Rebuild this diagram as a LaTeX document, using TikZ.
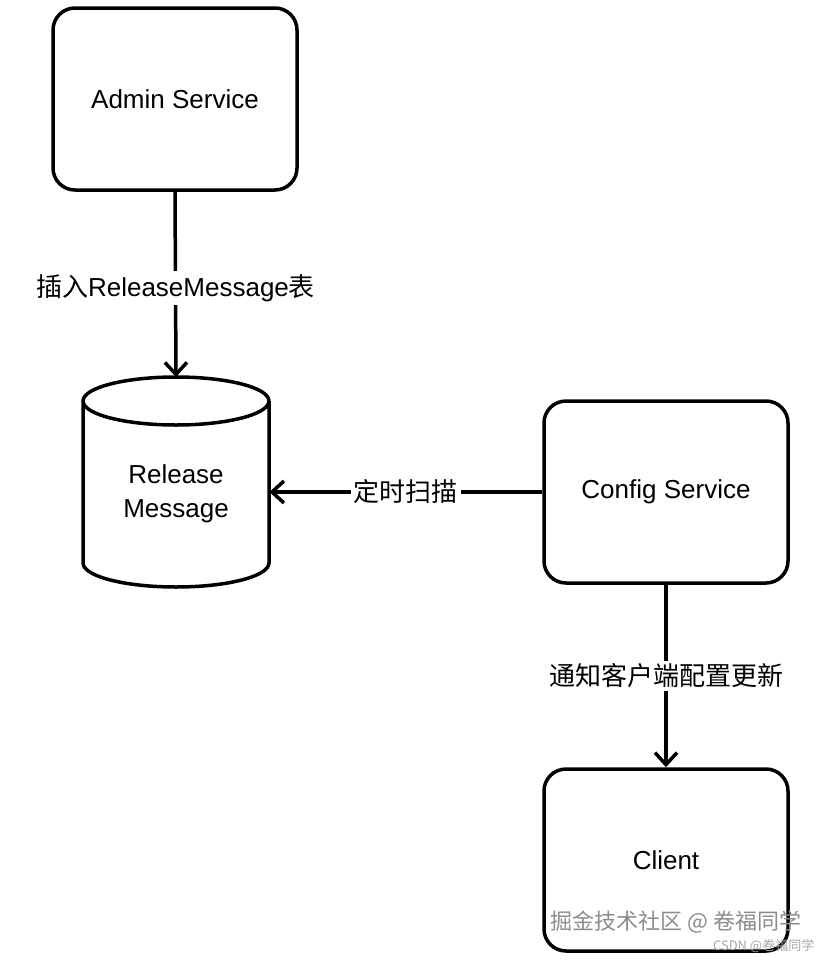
\documentclass[tikz,border=0pt]{standalone}
\usepackage{fontspec}
\setmainfont{Liberation Sans}
\newfontfamily\cjk{Noto Sans CJK SC}
\usetikzlibrary{arrows.meta}
\tikzset{every picture/.style={line width=0.75pt}}

\begin{document}
\begin{tikzpicture}[x=1pt,y=1pt,yscale=-1,xscale=1,
  box/.style={draw,line width=3.5pt,rounded corners=22pt,minimum width=244pt,minimum height=182pt,font=\fontsize{26}{30}\selectfont},
  lbl/.style={fill=white,inner sep=3pt,font=\fontsize{26}{30}\selectfont},
  arr/.style={line width=3.5pt,-{Straight Barb[length=12pt,width=22pt,line width=3.5pt]}}]
\useasboundingbox (0,0) rectangle (830,962);

% Boxes
\node [box] (admin) at (175,99) {Admin Service};
\node [box] (config) at (666,492) {Config Service};
\node [box] (client) at (666,860) {Client};

% Cylinder
\node [minimum width=186pt,minimum height=210pt,inner sep=0pt] (release) at (176,492) {};
\draw [line width=3.5pt,fill=white] (83,401) -- (83,563) arc[start angle=180,end angle=0,x radius=93,y radius=24] -- (269,401) arc[start angle=0,end angle=360,x radius=93,y radius=24];
\node [align=center,font=\fontsize{26}{34}\selectfont] (rtext) at (176,494) {Release\\Message};

% Connectors
\draw [arr] (admin.south) -- (176,377) node [lbl,pos=0.52] (l1) {{\cjk 插入}ReleaseMessage{\cjk 表}};
\draw [arr] (config.west) -- (release.east) node [lbl,midway] (l2) {\cjk 定时扫描};
\draw [arr] (config.south) -- (client.north) node [lbl,pos=0.5] (l3) {\cjk 通知客户端配置更新};

% Watermark
\node [anchor=east,text=black!45,font=\cjk\fontsize{22}{24}\selectfont] (wm1) at (805,922) {掘金技术社区 @ 卷福同学};
\node [anchor=east,text=black!35,font=\cjk\fontsize{13}{14}\selectfont] (wm2) at (818,946) {CSDN @卷福同学};
\end{tikzpicture}
\end{document}
